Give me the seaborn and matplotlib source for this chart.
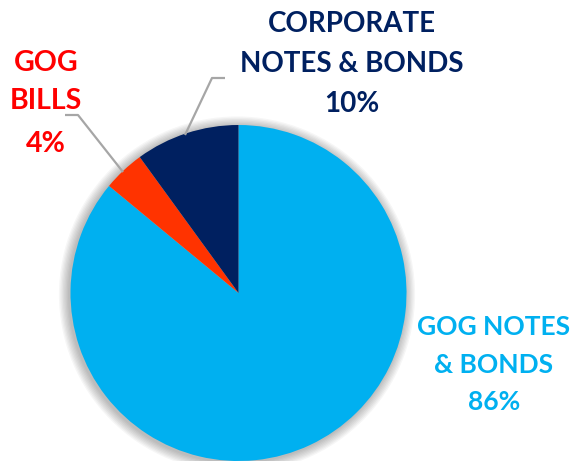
import matplotlib
matplotlib.use("Agg")
import matplotlib.pyplot as plt
from matplotlib.patches import Circle
import seaborn as sns

# ---- data ----
categories = ["GOG NOTES\n& BONDS", "GOG\nBILLS", "CORPORATE\nNOTES & BONDS"]
shares = [86, 4, 10]
wedge_colors = ["#00B0F0", "#FF3300", "#002060"]
label_colors = ["#00B0F0", "#FF0000", "#002060"]

sns.set_theme(style="white")
plt.rcParams["font.family"] = ["Lato", "DejaVu Sans"]

W, H = 577, 461
fig = plt.figure(figsize=(W / 100, H / 100), dpi=100)
ax = fig.add_axes([0, 0, 1, 1])
fig.patch.set_facecolor("white")

def Y(p):
    return H - p

cx, cy, r = 238.5, Y(293), 168

# soft glow / shadow behind pie
for i in range(8):
    ax.add_patch(Circle((cx - 1.5, cy - 1.5), r + 1 + i * 1.3, facecolor="#000000",
                        alpha=0.035, edgecolor="none", zorder=0))

pal = sns.color_palette(wedge_colors)
ax.pie(shares, colors=pal, startangle=90, counterclock=False,
       center=(cx, cy), radius=r, frame=False,
       wedgeprops=dict(linewidth=0, zorder=2))

# leader lines
ax.plot([65, 78, 123], [Y(115), Y(115), Y(172)], color="#A6A6A6", lw=1.6,
        solid_capstyle="butt", zorder=3)
ax.plot([225, 212, 185], [Y(78), Y(78), Y(135)], color="#A6A6A6", lw=1.6,
        solid_capstyle="butt", zorder=3)

# labels: (center x, baselines in pixels, fontsize)
layouts = [
    (494, [335, 373, 410], 19),
    (46, [71, 109, 152], 20.5),
    (352, [32, 72, 112], 20),
]
for cat, val, col, (x, bases, fs) in zip(categories, shares, label_colors, layouts):
    lines = cat.split("\n") + [f"{val}%"]
    for ln, b in zip(lines, bases):
        ax.text(x, Y(b), ln, ha="center", va="baseline", color=col,
                fontsize=fs, fontweight="bold", zorder=4)

ax.set_xlim(0, W)
ax.set_ylim(0, H)
ax.set_aspect("auto")
ax.axis("off")

fig.savefig("out.png", dpi=100, facecolor="white")
